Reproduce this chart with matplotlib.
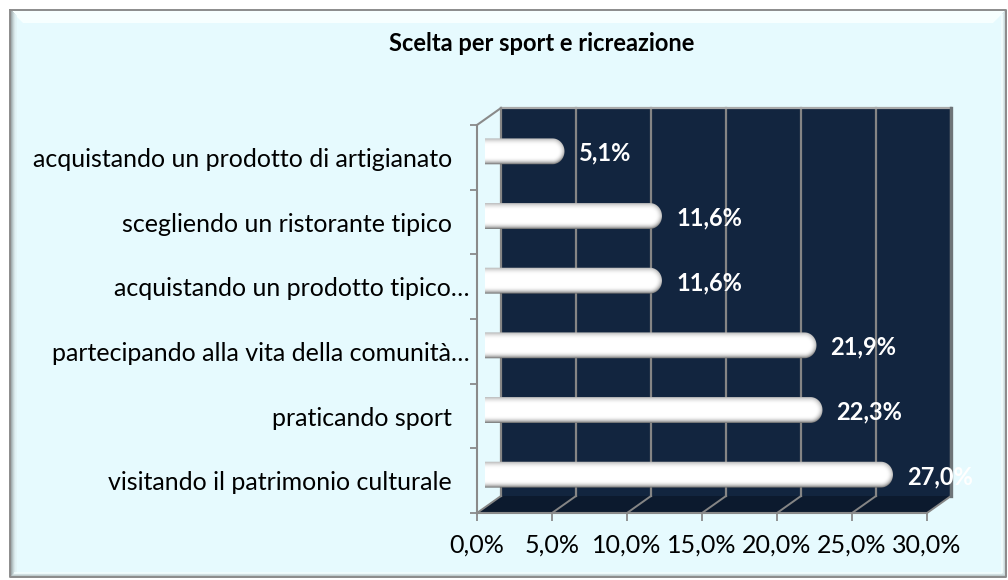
import numpy as np
import matplotlib
matplotlib.use("Agg")
import matplotlib.pyplot as plt
from matplotlib import transforms
from matplotlib.patches import Polygon, Rectangle, PathPatch
from matplotlib.path import Path

# ---- data (listed bottom to top) ----
categories = [
    "visitando il patrimonio culturale",
    "praticando sport",
    "partecipando alla vita della comunità…",
    "acquistando un prodotto tipico…",
    "scegliendo un ristorante tipico",
    "acquistando un prodotto di artigianato",
]
values = [27.0, 22.3, 21.9, 11.6, 11.6, 5.1]
x_ticks = [0, 5, 10, 15, 20, 25, 30]
x_tick_labels = ["0,0%", "5,0%", "10,0%", "15,0%", "20,0%", "25,0%", "30,0%"]
title = "Scelta per sport e ricreazione"

# ---- style ----
W, H, DPI = 1008, 580, 100
FS = 18          # regular text
FS_BOLD = 17     # bold title and value labels
BG = "#E6FAFE"
WALL = "#12253F"
FLOOR = "#0C1A2E"
GRID = "#858585"
AXIS = "#8A8A8A"

plt.rcParams["font.family"] = ["Lato", "DejaVu Sans"]

fig = plt.figure(figsize=(W / DPI, H / DPI), dpi=DPI, facecolor="white")

# ---- outer panel with bevelled border (pixel units, y down) ----
bg = fig.add_axes([0, 0, 1, 1], zorder=0)
bg.set_xlim(0, W)
bg.set_ylim(H, 0)
bg.axis("off")
L, T, R, B = 10, 10, 1006, 577
bg.add_patch(Rectangle((L, T), R - L, B - T, facecolor=BG, edgecolor="none"))
bg.add_patch(Polygon([(L, T), (R, T), (R - 13, T + 13), (L + 13, T + 13)],
                     closed=True, facecolor="#F7FFFF", edgecolor="none"))
left_shades = ["#8E9597", "#A3AEB0", "#B8C5C7", "#CBD9DB", "#DAE9EB", "#E2F3F6"]
for k, c in enumerate(left_shades):
    bg.plot([L + 0.5 + k, L + 0.5 + k], [T + k, B - k], color=c, lw=1.1,
            solid_capstyle="butt")
bottom_shades = ["#9AA4A6", "#AEB9BB", "#C2CED0", "#D4E2E4", "#F4FFFF"]
for k, c in enumerate(bottom_shades):
    bg.plot([L + k, R - k], [B - 0.5 - k, B - 0.5 - k], color=c, lw=1.1,
            solid_capstyle="butt")
right_shades = ["#A6B0B2", "#BCC8CA", "#D0DDDF", "#DEEDEF", "#F4FFFF"]
for k, c in enumerate(right_shades):
    bg.plot([R - 0.5 - k, R - 0.5 - k], [T + k, B - k], color=c, lw=1.1,
            solid_capstyle="butt")
bg.plot([L, R, R, L, L], [T, T, B, B, T], color="#8C8C8C", lw=1.4)

bg.text(542, 43.5, title, ha="center", va="center", fontsize=FS_BOLD,
        fontweight="bold", color="black")

# ---- chart axes: front plane of the 3D box ----
n = len(categories)
fx0, fx1, fy_top, fy_bot = 477, 927, 125, 513
ax = fig.add_axes([fx0 / W, 1 - fy_bot / H, (fx1 - fx0) / W, (fy_bot - fy_top) / H],
                  zorder=1)
ax.set_xlim(x_ticks[0], x_ticks[-1])
ax.set_ylim(-0.5, n - 0.5)
ax.set_autoscale_on(False)
ax.patch.set_visible(False)

ylo, yhi = -0.5, n - 0.5
xlo, xhi = x_ticks[0], x_ticks[-1]
front = ax.transData
back = transforms.offset_copy(ax.transData, fig=fig, x=24, y=17, units="dots")
mid = transforms.offset_copy(ax.transData, fig=fig, x=8, y=6, units="dots")
ident = transforms.IdentityTransform()

# back wall
ax.add_patch(Rectangle((xlo, ylo), xhi - xlo, yhi - ylo, transform=back,
                       facecolor=WALL, edgecolor="none", clip_on=False, zorder=0))
# floor
floor_pts = [front.transform((xlo, ylo)), front.transform((xhi, ylo)),
             back.transform((xhi, ylo)), back.transform((xlo, ylo))]
ax.add_patch(Polygon(floor_pts, closed=True, transform=ident, facecolor=FLOOR,
                     edgecolor="none", clip_on=False, zorder=0.5))

# gridlines on wall and floor
for xv in x_ticks:
    ax.plot([xv, xv], [ylo, yhi], transform=back, color=GRID, lw=1.6,
            clip_on=False, zorder=1)
    p0 = front.transform((xv, ylo))
    p1 = back.transform((xv, ylo))
    ax.plot([p0[0], p1[0]], [p0[1], p1[1]], transform=ident, color=GRID, lw=1.4,
            clip_on=False, zorder=1)
ax.plot([xlo, xhi], [yhi, yhi], transform=back, color="#A9A9A9", lw=1.6,
        clip_on=False, zorder=1)
ax.plot([xhi, xhi], [ylo, yhi], transform=back, color="#6E7478", lw=2.4,
        clip_on=False, zorder=1)
q0 = front.transform((xlo, yhi))
q1 = back.transform((xlo, yhi))
ax.plot([q0[0], q1[0]], [q0[1], q1[1]], transform=ident, color=AXIS, lw=1.5,
        clip_on=False, zorder=1)

# axes lines and ticks
for side in ("top", "right"):
    ax.spines[side].set_visible(False)
for side in ("left", "bottom"):
    ax.spines[side].set_color(AXIS)
    ax.spines[side].set_linewidth(1.5)
ax.set_xticks(x_ticks, x_tick_labels)
ax.tick_params(axis="x", direction="out", length=6, width=1.3, color=AXIS,
               pad=9, labelsize=FS, labelcolor="black")
ax.set_yticks([])
ax.set_yticks(np.arange(n + 1) - 0.5, minor=True)
ax.tick_params(axis="y", which="minor", direction="out", length=5, width=1.3,
               color=AXIS)

# category labels (truncated ones sit closer to the axis)
for i, lab in enumerate(categories):
    dx = -7 if lab.endswith("…") else -25
    t = transforms.offset_copy(ax.transData, fig=fig, x=dx, y=-2, units="dots")
    ax.text(0, i, lab, transform=t, ha="right", va="center", fontsize=FS,
            color="black", clip_on=False)

# ---- cylinder bars ----
bar_h = 0.40
cap_r = 12.0
overhang = 3.0
for i, v in enumerate(values):
    x0, y0 = mid.transform((0, i - bar_h / 2))
    x1, y1 = mid.transform((v, i + bar_h / 2))
    x1 += overhang
    yc, hh = (y0 + y1) / 2, (y1 - y0) / 2
    ang = np.linspace(-np.pi / 2, np.pi / 2, 40)
    cap = np.column_stack([x1 - cap_r + cap_r * np.cos(ang), yc + hh * np.sin(ang)])
    verts = np.vstack([[x0, y0], cap, [x0, y1], [x0, y0]])
    codes = [Path.MOVETO] + [Path.LINETO] * (len(verts) - 2) + [Path.CLOSEPOLY]
    clip = PathPatch(Path(verts, codes), transform=ident)

    xs = np.arange(np.floor(x0), np.ceil(x1) + 1) + 0.5
    ys = np.arange(np.floor(y0), np.ceil(y1) + 1) + 0.5
    X, Y = np.meshgrid(xs, ys)
    vy = (Y - yc) / hh
    ux = np.clip((X - (x1 - cap_r)) / cap_r, 0, None)
    d = np.sqrt(ux ** 2 + vy ** 2)
    edge = np.clip((d - 0.45) / 0.55, 0, 1) ** 2
    low = np.clip(-vy, 0, 1)
    g = np.clip(1 - edge * (0.28 + 0.30 * low), 0, 1)
    rgb = np.dstack([g, g, g])
    ax.imshow(rgb, extent=(xs[0] - 0.5, xs[-1] + 0.5, ys[0] - 0.5, ys[-1] + 0.5),
              origin="lower", transform=ident, interpolation="bilinear",
              aspect="auto", clip_path=clip, zorder=3)

ax.set_xlim(xlo, xhi)
ax.set_ylim(ylo, yhi)

# value labels
lab_t = transforms.offset_copy(ax.transData, fig=fig, x=25, y=4, units="dots")
for i, v in enumerate(values):
    ax.text(v, i, f"{v:.1f}".replace(".", ",") + "%", transform=lab_t, ha="left",
            va="center", color="white", fontweight="bold", fontsize=FS_BOLD,
            clip_on=False, zorder=5)

fig.savefig("out.png", dpi=DPI)
